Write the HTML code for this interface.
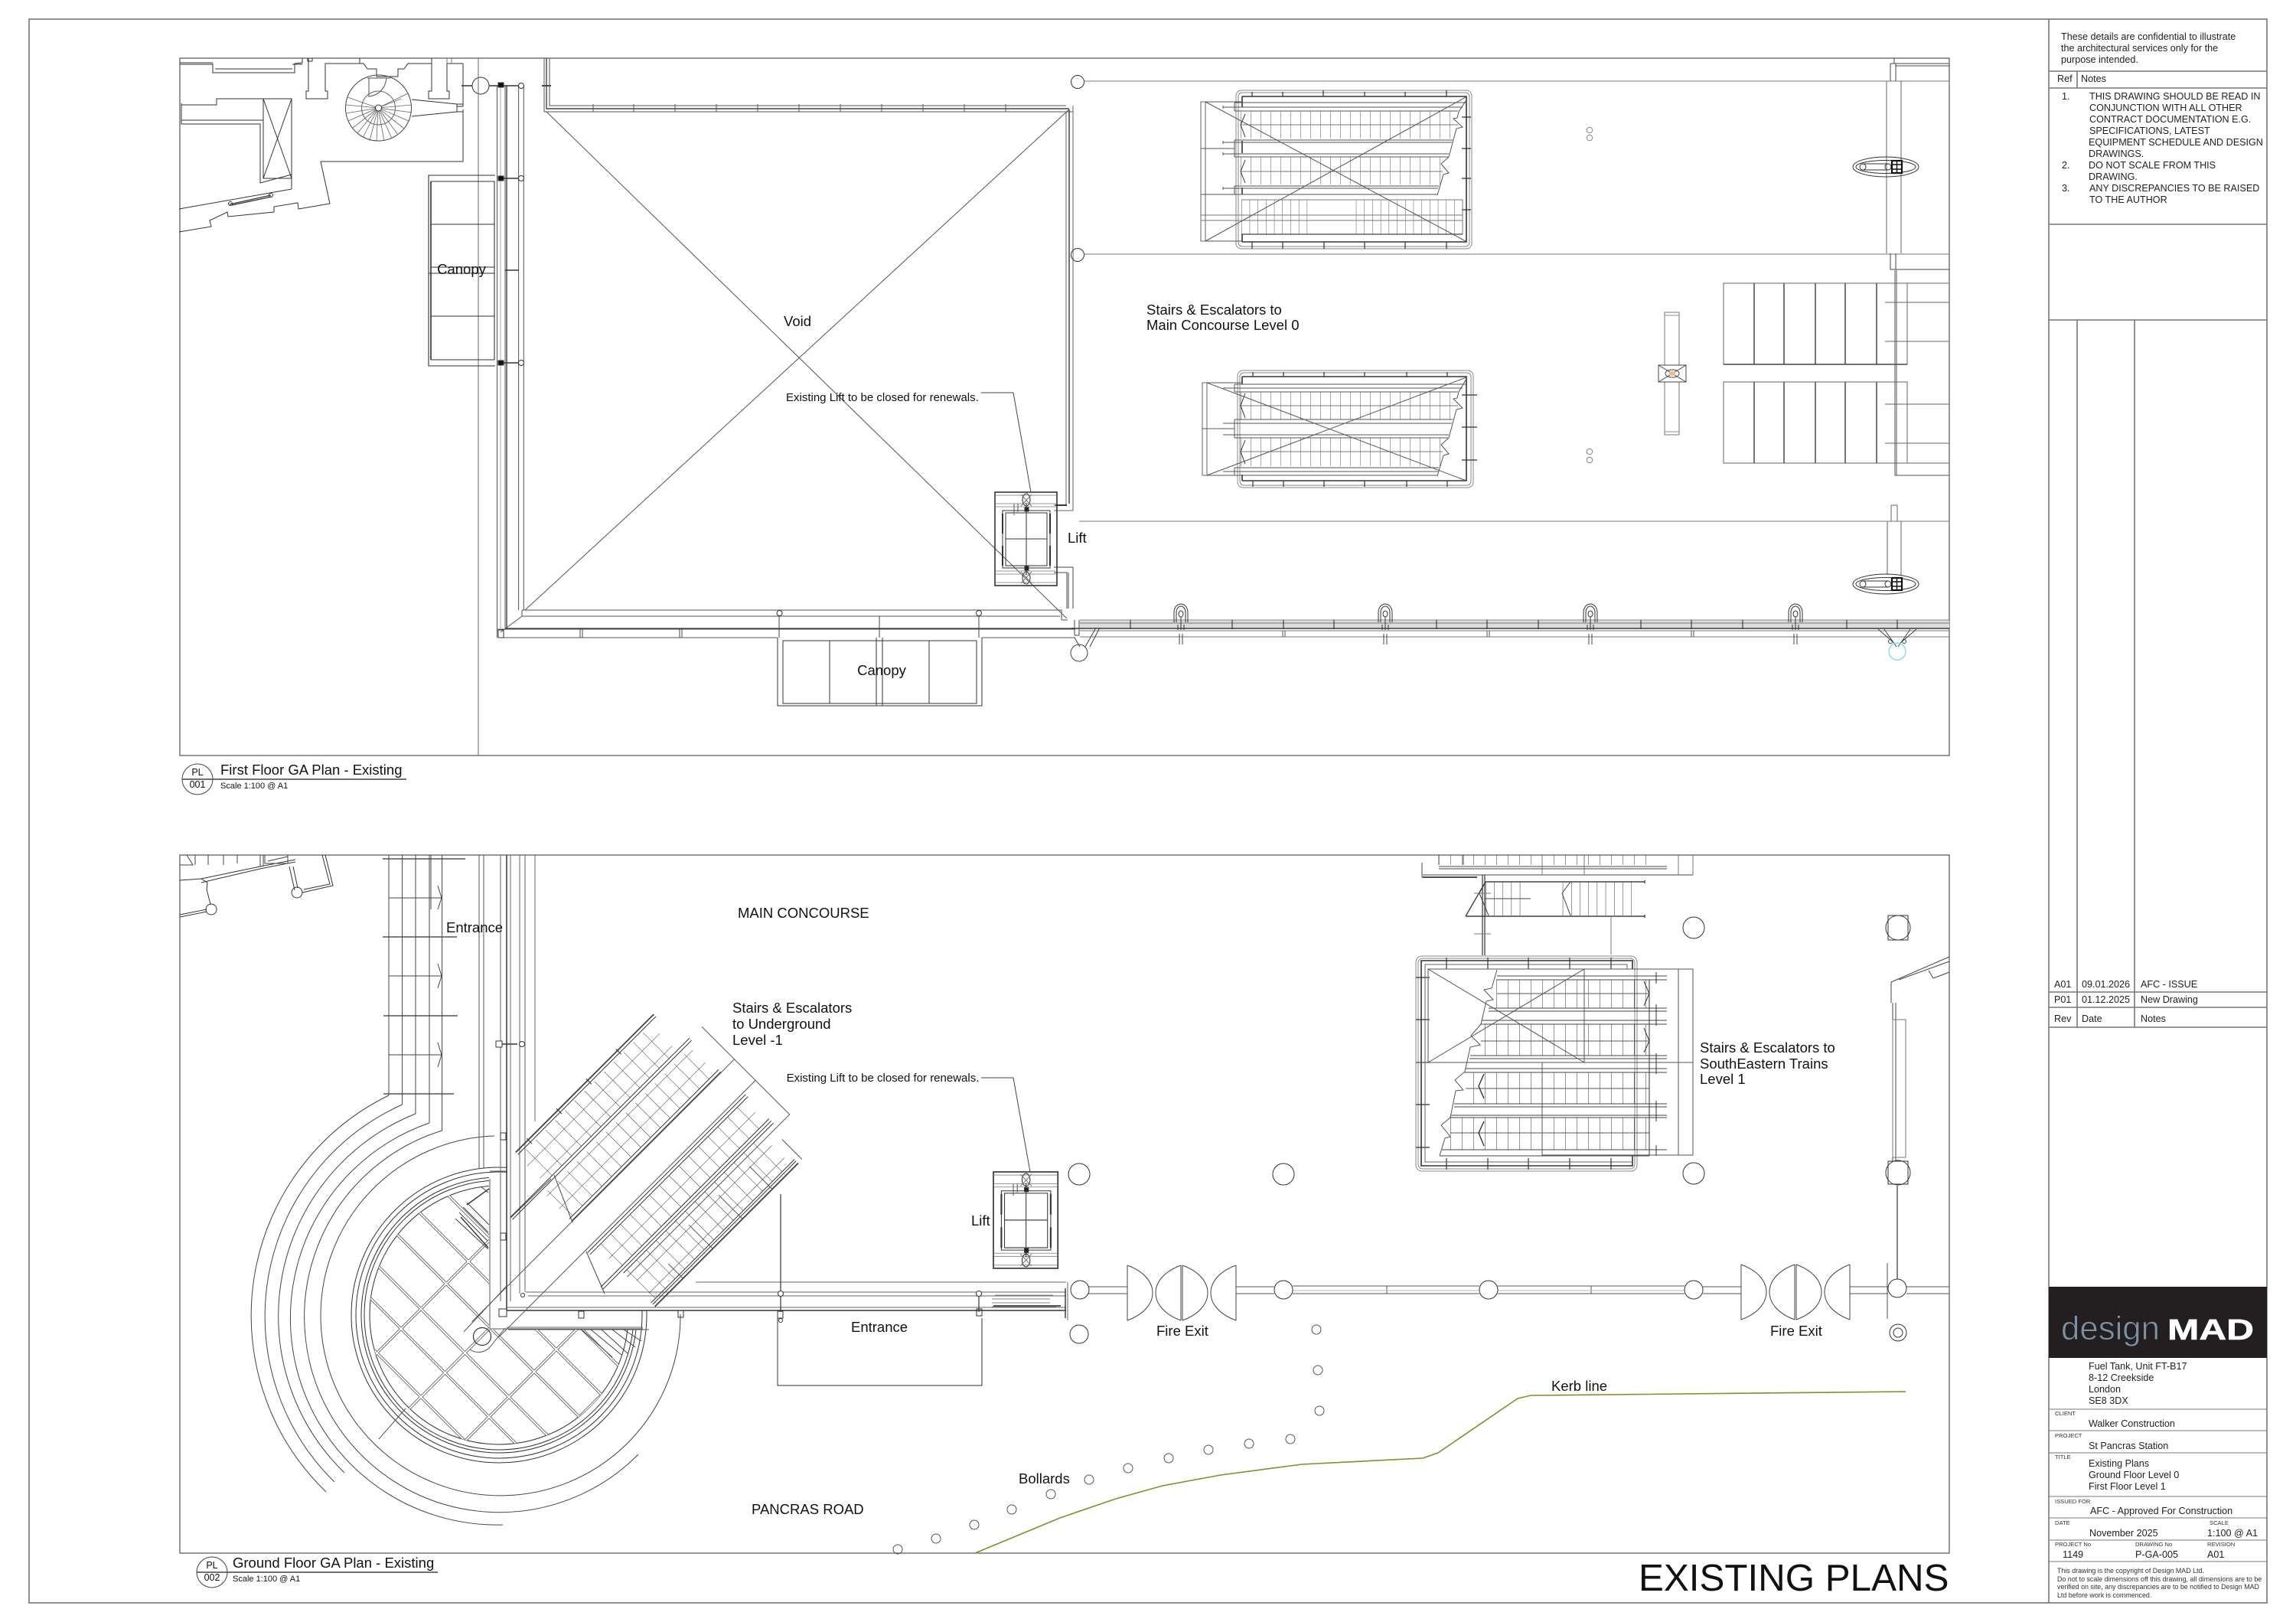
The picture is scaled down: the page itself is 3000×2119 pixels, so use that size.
<!DOCTYPE html>
<html lang="en">
<head>
<meta charset="utf-8">
<title>Existing Plans</title>
<style>
html,body{margin:0;padding:0;background:#fff}
svg{display:block}
text{font-family:"Liberation Sans",sans-serif;fill:#111;stroke:none}
.l{font-size:18.5px}
.n{font-size:12.6px;fill:#222}
.k{font-size:7.6px;fill:#333}
.v{font-size:12.6px;fill:#222}
</style>
</head>
<body>
<svg xmlns="http://www.w3.org/2000/svg" width="3000" height="2119" viewBox="0 0 3000 2119">
<defs>
<pattern id="t13" width="13" height="18" patternUnits="userSpaceOnUse" x="1621"><path d="M0 0V18" stroke="#555" stroke-width="1" fill="none"/></pattern>
<pattern id="t10" width="10.7" height="60" patternUnits="userSpaceOnUse" x="1622"><path d="M0 0V60" stroke="#555" stroke-width="1" fill="none"/></pattern>
<pattern id="t15" width="15" height="60" patternUnits="userSpaceOnUse" x="1880"><path d="M0 0V60" stroke="#333" stroke-width="1" fill="none"/></pattern>
<pattern id="t11" width="11.2" height="60" patternUnits="userSpaceOnUse" x="1941"><path d="M0 0V60" stroke="#333" stroke-width="1" fill="none"/></pattern>
<pattern id="dg" width="18" height="23" patternUnits="userSpaceOnUse"><path d="M0 0V23M0 0H18" stroke="#333" stroke-width="1" fill="none"/></pattern>
<clipPath id="circ"><circle cx="652" cy="1718" r="169"/></clipPath>
<clipPath id="quad"><path d="M400 1450H639V1737H900V2000H400Z"/></clipPath>
<clipPath id="outerq"><path d="M400 1450H662V1712H900V2000H400Z"/></clipPath>
<g id="lift" fill="none" stroke="#333" stroke-width="1">
 <rect x="0" y="0" width="81" height="122" stroke-width="1.6"/>
 <path d="M1 4H80M1 15H80M1 19H80M1 103H80M1 107H80M1 118H80" stroke="#999"/>
 <path d="M10 24H72V99H10ZM14 27H68V96H14Z"/>
 <path d="M10 28V54M10 70V96M72 28V54M72 70V96" stroke-width="2" stroke="#333"/>
 <path d="M14 61H68M41 14V108"/>
 <ellipse cx="41" cy="10" rx="5" ry="8"/><ellipse cx="41" cy="112" rx="5" ry="8"/>
 <path d="M34 3L48 18M48 3L34 18M34 104L48 119M48 104L34 119" stroke="#777"/>
 <path d="M25 15V30M30 15V26" stroke="#555"/>
 <rect x="39" y="20" width="5" height="5" fill="#222"/><rect x="39" y="97" width="5" height="5" fill="#222"/>
</g>
<g id="bay" fill="none" stroke="#333" stroke-width="1">
 <path d="M-9 13V0A9 11 0 0 1 9 0V13M-6 13V0A6 8 0 0 1 6 0V13"/>
 <ellipse cx="0" cy="2" rx="3" ry="4"/>
 <path d="M0 6V23M-4 16V23M4 16V23"/>
 <path d="M-2 28V42M2 28V42" stroke="#444"/>
</g>
<g id="oval" fill="none" stroke="#333" stroke-width="1">
 <ellipse cx="0" cy="0" rx="43" ry="13"/><ellipse cx="0" cy="0" rx="39" ry="8.5"/>
 <circle cx="-30" cy="0" r="4"/><circle cx="3" cy="0" r="4"/>
 <path d="M-30 -4H3M-30 4H3"/>
 <rect x="8" y="-8" width="13" height="16" stroke-width="2.2" stroke="#111" fill="#fff"/>
 <path d="M14.5 -8V8M8 -3H21M8 3H21" stroke-width="1.4" stroke="#111"/>
</g>
<g id="door" fill="none" stroke="#444" stroke-width="1">
 <path d="M0 0V72M0 0C44 16 44 56 0 72M70 0V72M70 0C26 16 26 56 70 72"/>
</g>
</defs>

<rect width="3000" height="2119" fill="#fff"/>

<!-- outer frame and title column -->
<g fill="none" stroke="#777" stroke-width="1.6">
 <rect x="38" y="25" width="2924" height="2069"/>
 <path d="M2677 25V2094"/>
 <path d="M2677 93H2962M2677 115H2962M2677 293H2962M2677 418H2962M2677 1296H2962M2677 1316H2962M2677 1342H2962"/>
 <path d="M2714 93V115M2714 418V1342M2789 418V1342"/>
 <path d="M2677 1841H2962M2677 1869H2962M2677 1898H2962M2677 1955H2962M2677 1983H2962M2677 2012H2962M2677 2040H2962" stroke-width="1.1"/>
</g>
<rect x="2677" y="1681" width="285" height="93" fill="#231f20"/>
<text x="2693" y="1750" font-size="44" style="fill:#7c92a0;stroke:#231f20;stroke-width:.8" textLength="129" lengthAdjust="spacingAndGlyphs">design</text>
<text x="2832" y="1750" font-size="38" font-weight="700" style="fill:#fff;stroke:#fff;stroke-width:.6" textLength="113" lengthAdjust="spacingAndGlyphs">MAD</text>

<!-- title column text -->
<text class="n" x="2693" y="52">These details are confidential to illustrate</text>
<text class="n" x="2693" y="67">the architectural services only for the</text>
<text class="n" x="2693" y="82">purpose intended.</text>
<text class="n" x="2688" y="107">Ref</text><text class="n" x="2719" y="107">Notes</text>
<text class="n" x="2694" y="130">1.</text><text class="n" x="2730" y="130">THIS DRAWING SHOULD BE READ IN</text>
<text class="n" x="2730" y="145">CONJUNCTION WITH ALL OTHER</text>
<text class="n" x="2730" y="160">CONTRACT DOCUMENTATION E.G.</text>
<text class="n" x="2730" y="175">SPECIFICATIONS, LATEST</text>
<text class="n" x="2729" y="190">EQUIPMENT SCHEDULE AND DESIGN</text>
<text class="n" x="2729" y="205">DRAWINGS.</text>
<text class="n" x="2694" y="220">2.</text><text class="n" x="2729" y="220">DO NOT SCALE FROM THIS</text>
<text class="n" x="2729" y="235">DRAWING.</text>
<text class="n" x="2694" y="250">3.</text><text class="n" x="2730" y="250">ANY DISCREPANCIES TO BE RAISED</text>
<text class="n" x="2730" y="265">TO THE AUTHOR</text>

<text class="v" x="2684" y="1290">A01</text><text class="v" x="2720" y="1290">09.01.2026</text><text class="v" x="2797" y="1290">AFC - ISSUE</text>
<text class="v" x="2684" y="1310">P01</text><text class="v" x="2720" y="1310">01.12.2025</text><text class="v" x="2797" y="1310">New Drawing</text>
<text class="v" x="2684" y="1335">Rev</text><text class="v" x="2720" y="1335">Date</text><text class="v" x="2797" y="1335">Notes</text>

<text class="v" x="2729" y="1789">Fuel Tank, Unit FT-B17</text>
<text class="v" x="2729" y="1804">8-12 Creekside</text>
<text class="v" x="2729" y="1819">London</text>
<text class="v" x="2729" y="1834">SE8 3DX</text>
<text class="k" x="2685" y="1849">CLIENT</text>
<text class="v" x="2729" y="1864">Walker Construction</text>
<text class="k" x="2685" y="1878">PROJECT</text>
<text class="v" x="2729" y="1893">St Pancras Station</text>
<text class="k" x="2685" y="1906">TITLE</text>
<text class="v" x="2729" y="1916">Existing Plans</text>
<text class="v" x="2729" y="1931">Ground Floor Level 0</text>
<text class="v" x="2729" y="1946">First Floor Level 1</text>
<text class="k" x="2685" y="1964">ISSUED FOR</text>
<text class="v" x="2731" y="1978">AFC - Approved For Construction</text>
<text class="k" x="2685" y="1992">DATE</text><text class="k" x="2887" y="1992">SCALE</text>
<text class="v" x="2730" y="2007">November 2025</text><text class="v" x="2884" y="2007">1:100 @ A1</text>
<text class="k" x="2685" y="2020">PROJECT No</text><text class="k" x="2790" y="2020">DRAWING No</text><text class="k" x="2884" y="2020">REVISION</text>
<text class="v" x="2695" y="2035">1149</text><text class="v" x="2790" y="2035">P-GA-005</text><text class="v" x="2884" y="2035">A01</text>
<g font-size="8.9">
<text x="2688" y="2055" style="fill:#333">This drawing is the copyright of Design MAD Ltd.</text>
<text x="2688" y="2066" style="fill:#333">Do not to scale dimensions off this drawing, all dimensions are to be</text>
<text x="2688" y="2076" style="fill:#333">verified on site, any discrepancies are to be notified to Design MAD</text>
<text x="2688" y="2087" style="fill:#333">Ltd before work is commenced.</text>
</g>

<!-- drawing frames -->
<g fill="none" stroke="#555" stroke-width="1.2">
 <rect x="235" y="76" width="2312" height="911"/>
 <rect x="235" y="1117" width="2312" height="912"/>
</g>

<!-- labels of plans -->
<g fill="none" stroke="#444" stroke-width="1">
 <circle cx="258" cy="1018" r="20"/><path d="M238 1018H531" stroke-width="1.4"/>
 <circle cx="277" cy="2054" r="20"/><path d="M257 2054H572" stroke-width="1.4"/>
</g>
<text x="258" y="1013" font-size="12.5" text-anchor="middle">PL</text>
<text x="258" y="1029" font-size="12.5" text-anchor="middle">001</text>
<text x="288" y="1012" font-size="18.5">First Floor GA Plan - Existing</text>
<text x="288" y="1030" font-size="11">Scale 1:100 @ A1</text>
<text x="277" y="2049" font-size="12.5" text-anchor="middle">PL</text>
<text x="277" y="2065" font-size="12.5" text-anchor="middle">002</text>
<text x="304" y="2048" font-size="18.5">Ground Floor GA Plan - Existing</text>
<text x="304" y="2066" font-size="11">Scale 1:100 @ A1</text>

<!-- ============= FIRST FLOOR PLAN ============= -->
<g fill="none" stroke="#333" stroke-width="1">
 <!-- existing building top-left -->
 <path d="M235 82H278M235 84H278M278 83V95H385V83M281 90H382M382 84H395M385 83L395 82V76M402 76V80H408V76"/>
 <path d="M403 76V119H400V129H428V119H425V83H470V76M470 83H475L480 90H492V100H520V90H528L533 83H564V76M564 83V119H560V129H587V119H584V83H605V139H597M605 143V211H419L431 266L390 273L389 265L358 270L358 277L298 283L297 277L274 288L276 296L234 303"/>
 <path d="M584 76V83M590 76V83" stroke="#777"/>
 <circle cx="494.5" cy="141" r="43" stroke="#444"/><circle cx="494.5" cy="141" r="22" stroke="#666"/>
 <path d="M494 141L454 127M494 141L452 137M494 141L452 148M494 141L455 158M494 141L461 167M494 141L467 174M494 141L474 180M494 141L483 184M494 141L492 184M494 141L502 184M494 141L512 181M494 141L520 176M494 141L528 168M494 141L534 158M494 141L538 147M494 141L538 137M494 141L533 122M494 141L524 129" stroke="#666" stroke-width=".8"/>
 <circle cx="494.5" cy="141" r="4" fill="#fff"/>
 <path d="M482 102V126C498 124 504 112 505 102M480 102H510" stroke="#555"/>
 <path d="M538 130L597 136H605M538 152L597 146H605M597 136V146"/>
 <path d="M237 135V162H340V239L381 228M237 157H344M237 137H283V129H381V233L344 233V129M344 129L381 233M381 129L344 233M381 247V228"/>
 <path d="M381 247L234 273"/>
 <circle cx="301" cy="266" r="2.5"/><circle cx="354" cy="255" r="2.5"/>
 <path d="M300 267L354 255M303 268L355 257" stroke-width="1.2"/>
 <!-- column at top of west wall -->
 <circle cx="628" cy="112" r="11"/><path d="M603 112H617M639 112H652" stroke-width="1.4"/>
 <path d="M625 76V987" stroke="#666"/>
 <path d="M708 112H720" stroke-width="1.8"/>
 <!-- west wall -->
 <path d="M649.5 112V833M660 112V821M677.6 112V797M684.3 112V797" stroke="#555"/>
 <path d="M662 112V821" stroke-width="1.4" stroke="#444"/>
 <path d="M654 112V821" stroke="#aaa"/>
 <rect x="651" y="108" width="7" height="6" fill="#111"/><rect x="651" y="230" width="7" height="6" fill="#111"/><rect x="651" y="471" width="7" height="6" fill="#111"/>
 <path d="M658 112H677M658 233H677M660 353H678M658 474H677" stroke-width="1.4"/>
 <circle cx="681" cy="112" r="3.5" fill="#fff"/><circle cx="681" cy="233" r="3.5" fill="#fff"/><circle cx="681" cy="474" r="3.5" fill="#fff"/>
 <!-- west canopy -->
 <path d="M647 229H560V478H647M563 237V470M563 237H646V470H563M563 293H646M563 349H646M560 357H646M560 349V357M563 413H646" stroke-width="1.1"/>
 <path d="M563 237V470" stroke-width="1.6"/>
 <!-- void -->
 <path d="M711 76V146H1402M718 76V138H1393" stroke="#555"/>
 <path d="M714 76V142H1397" stroke-width="1.4" stroke="#444"/>
 <path d="M775 136V146M828 136V146M882 136V146M936 136V146M990 136V146M1044 136V146M1098 136V146M1152 136V146M1206 136V146M1260 136V146M1314 136V146" stroke="#555"/>
 <path d="M1402 138V655M1393 146V660H1377M1402 655V667H1377" stroke="#666"/>
 <path d="M1397 143V658" stroke-width="1.5" stroke="#444"/>
 <path d="M1394 660H1379" stroke-width="2" stroke="#333"/>
 <path d="M714 146L1394 808M1397 143L686 797" stroke="#555"/>
 <path d="M1377 741H1402V795M1377 748H1394V795M1396 748V795" stroke="#444"/>
 <!-- south edge -->
 <path d="M682 797H1387V810H1395M682 805H1385M651 833V822H1405M651 833H1016M1283 833H1405M682 797V805L654 826" stroke="#555"/>
 <path d="M660 821H1405" stroke-width="1.3" stroke="#333"/>
 <rect x="651" y="823" width="7" height="10"/>
 <path d="M758 822V833M761 822V833M888 822V833M891 822V833M1018 805V833M1149 805V833M1279 805V833" stroke="#444"/>
 <circle cx="1018.6" cy="801" r="3.5" fill="#fff"/><circle cx="1279" cy="801" r="3.5" fill="#fff"/>
 <!-- south canopy -->
 <path d="M1016 833V922H1283V833M1023 837H1276V919H1023ZM1084 837V919M1145 833V922M1153 833V922M1214 837V919"/>
 <!-- NE circles and lines -->
 <circle cx="1408" cy="107" r="8.5"/><circle cx="1408" cy="333" r="8.5"/>
 <path d="M1417 106H2547M1417 332H2547M1410 681H2547" stroke="#777"/>
</g>

<!-- lift top -->
<use href="#lift" x="1300" y="643"/>
<path d="M1282 513H1324L1347 643" fill="none" stroke="#444"/>

<!-- escalator block 1 -->
<g fill="none" stroke="#333" stroke-width="1">
 <rect x="1615" y="118" width="308" height="207" rx="7" stroke="#888"/>
 <rect x="1618" y="121" width="302" height="201" rx="5" stroke="#888"/>
 <path d="M1623 126H1916V316H1623" stroke-width="1.6" stroke="#333"/>
 <path d="M1623 126V140M1623 306V316M1623 184V200M1623 245V254" stroke-width="1.6"/>
 <path d="M1636 120V126M1676 120V126M1729 118V126M1783 120V126M1836 120V126M1890 118V126M1636 316V325M1676 316V325M1730 316V325M1783 316V325M1836 316V325M1890 316V325M1910 153H1922M1910 194H1922M1910 233H1922M1910 274H1922" stroke-width="1.2"/>
 <rect x="1621" y="145" width="284" height="36" fill="url(#t13)" stroke="none"/>
 <rect x="1621" y="205" width="264" height="36" fill="url(#t13)" stroke="none"/>
 <path d="M1613 134H1915M1598 140H1911M1613 145H1905M1613 183H1898M1598 186H1897M1598 201H1893M1613 205H1892M1613 243H1880M1598 246H1879M1613 254H1878M1613 134V145M1613 183V205M1613 243V254M1598 138V142M1598 184V188M1598 199V203M1598 244V248" stroke="#555"/>
 <path d="M1915 132L1906 146L1904 154L1899 155L1911 166L1903 168L1893 205L1883 214L1893 226L1886 228L1878 255" stroke="#555"/>
 <path d="M1621 163H1905M1621 224H1885" stroke="#777"/>
 <path d="M1627 149L1621 163L1627 179M1627 209L1621 224L1627 239"/>
 <rect x="1622" y="261" width="96" height="45" fill="url(#t10)" stroke="none"/>
 <rect x="1762" y="261" width="149" height="45" fill="url(#t10)" stroke="none"/>
 <path d="M1622 261H1911V306H1622M1569 281H1911M1569 288H1911" stroke="#777"/>
 <path d="M1622 306H1911" stroke="#444" stroke-width="1.2"/>
 <rect x="1569" y="133" width="6" height="182" stroke="#666"/>
 <path d="M1569 194H1613M1569 254H1613M1575 133H1623M1575 315H1623" stroke="#555"/>
 <path d="M1575 133L1915 315M1575 315L1915 127" stroke="#555"/>
</g>

<!-- escalator block 2 -->
<g fill="none" stroke="#333" stroke-width="1">
 <rect x="1617" y="484" width="308" height="153" rx="7" stroke="#888"/>
 <rect x="1620" y="487" width="302" height="147" rx="5" stroke="#888"/>
 <path d="M1623 492H1916V628H1623" stroke-width="1.6" stroke="#333"/>
 <path d="M1623 492V502M1623 620V628" stroke-width="1.6"/>
 <path d="M1637 486V492M1677 486V492M1730 486V492M1783 486V492M1838 486V492M1891 486V492M1637 628V636M1677 628V636M1730 628V636M1783 628V636M1838 628V636M1891 628V636M1910 516H1930M1910 558H1930M1910 601H1930" stroke-width="1.2"/>
 <rect x="1621" y="512" width="284" height="36" fill="url(#t13)" stroke="none"/>
 <rect x="1621" y="572" width="264" height="37" fill="url(#t13)" stroke="none"/>
 <path d="M1613 502H1915M1598 507H1911M1613 512H1905M1613 548H1898M1598 553H1897M1598 568H1893M1613 572H1892M1613 611H1880M1598 616H1879M1613 621H1878M1613 502V512M1613 548V572M1613 611V621" stroke="#555"/>
 <path d="M1916 495L1906 512L1904 520L1899 521L1911 533L1903 535L1893 572L1883 581L1893 593L1886 595L1878 622" stroke="#555"/>
 <path d="M1621 530H1905M1621 590H1885" stroke="#777"/>
 <path d="M1627 514L1621 530L1627 546M1627 575L1621 590L1627 606"/>
 <rect x="1571" y="500" width="6" height="121" stroke="#666"/>
 <path d="M1571 560H1613M1577 500H1623M1577 621H1623" stroke="#555"/>
 <path d="M1577 500L1916 628M1577 621L1916 493" stroke="#555"/>
</g>

<!-- NE columns + canopies -->
<g fill="none" stroke="#444" stroke-width="1">
 <path d="M2465 106V331M2484 106V331" stroke="#666"/>
 <path d="M2470 83V106M2477 83V106M2470 83H2477M2475 76V83M2477 83H2547M2477 86H2547M2470 331V352H2477V331M2477 352H2547"/>
 <path d="M2466 681V751M2484 681V751M2471 660V681M2479 660V681M2471 660H2479" stroke="#666"/>
 <rect x="2252" y="370" width="240" height="106" stroke="#666"/>
 <rect x="2252" y="499" width="240" height="106" stroke="#666"/>
 <path d="M2292 370V476M2331 370V476M2372 370V476M2411 370V476M2452 370V476M2292 499V605M2331 499V605M2372 499V605M2411 499V605M2452 499V605" stroke-width="1.6" stroke="#555"/>
 <path d="M2252 476H2492" stroke-width="1.6"/>
 <path d="M2492 370H2547M2463 395H2547M2463 446H2547M2463 528H2547M2463 579H2547M2492 605H2547" stroke="#666"/>
 <path d="M2476 353V621H2547M2478 353V621" stroke="#555"/>
 <!-- centre kiosk -->
 <rect x="2175" y="408" width="19" height="160" stroke="#777"/>
 <path d="M2175 412H2194M2175 564H2194" stroke="#888"/>
 <rect x="2167" y="477" width="36" height="22" fill="#fff"/>
 <path d="M2167 477L2203 499M2203 477L2167 499"/>
 <ellipse cx="2185" cy="488" rx="9" ry="5"/>
 <ellipse cx="2185" cy="488" rx="4" ry="3" fill="#eebb88" stroke="none"/>
 <circle cx="2077" cy="170" r="3.7" stroke="#888"/><circle cx="2077" cy="180" r="3.7" stroke="#888"/>
 <circle cx="2077" cy="590" r="3.7" stroke="#888"/><circle cx="2077" cy="601" r="3.7" stroke="#888"/>
</g>
<use href="#oval" x="2464" y="218"/>
<use href="#oval" x="2464" y="763"/>

<!-- facade -->
<rect x="1411" y="811" width="1136" height="9" fill="#dcdcdc"/>
<g fill="none" stroke="#444" stroke-width="1">
 <path d="M1411 810H2547M1411 814H2547M1411 824H2547M1411 832H2547" stroke="#777"/>
 <path d="M1400 821H2547" stroke-width="1.4" stroke="#333"/>
 <path d="M1477 810V822M1610 810V822M1677 810V822M1743 810V822M1877 810V822M1943 810V822M2010 810V822M2144 810V822M2210 810V822M2277 810V822M2413 810V822M2479 810V822" stroke="#222"/>
 <path d="M1676 824V832M1679 824V832M1943 824V832M1946 824V832M2210 824V832M2213 824V832" stroke="#555"/>
 <path d="M1404 810V830M1410 810V830H1404"/>
 <path d="M1404 833L1411 845M1418 845L1432 820M1424 845L1437 820"/>
 <circle cx="1410" cy="853" r="11"/>
 <path d="M2454 822L2475 840M2462 822L2478 845M2504 822L2483 840M2496 822L2480 845"/>
 <circle cx="2470" cy="838" r="2.5"/><circle cx="2488" cy="838" r="2.5"/>
</g>
<ellipse cx="2479" cy="851" rx="11" ry="11" fill="none" stroke="#7fdfe5" stroke-width="1.4"/>
<use href="#bay" x="1543" y="800"/><use href="#bay" x="1810" y="800"/><use href="#bay" x="2078" y="800"/><use href="#bay" x="2346" y="800"/>

<!-- ============= GROUND FLOOR PLAN ============= -->
<g fill="none" stroke="#333" stroke-width="1">
 <!-- NW building -->
 <path d="M235 1150L263 1148L340 1132L386 1123M263 1153L340 1135L386 1126M263 1148L271 1153L270 1162L275 1181M235 1195L270 1188M235 1198L270 1191"/>
 <circle cx="276" cy="1188" r="7"/>
 <path d="M378 1132L385 1163M383 1132L389 1160M395 1166L435 1157L425 1117M397 1162L431 1155L421 1117"/>
 <circle cx="388" cy="1166" r="7"/>
 <path d="M340 1117V1132M344 1117V1131M244 1117L252 1130H235M255 1117V1130M272 1117V1130M292 1117V1130M310 1117V1128" stroke="#444"/>
 <path d="M346 1117V1128H376V1117M350 1125L376 1119" stroke="#444"/>
 <!-- entrance verticals + arcs -->
 <path d="M500 1122H608M500 1224H597M501 1327H598M501 1429H593" stroke-width="1.2"/>
 <path d="M508 1117V1431M525.6 1117V1443M543 1117V1455M561 1117V1467M577.6 1117V1477" stroke="#444"/>
 <path d="M508 1173H577M572 1157L577 1173L572 1188M508 1275H577M572 1259L577 1275L572 1291M508 1378H577M572 1362L577 1378L572 1394M563 1117V1188" stroke="#444"/>
 <path d="M508 1431A320 320 0 0 0 426 1949M525.6 1443A303 303 0 0 0 437 1936M543 1455A285 285 0 0 0 450 1924M561 1467A270 270 0 0 0 657 1992M577.6 1477A255 255 0 1 0 834 1900M646 1484A235 235 0 1 0 889 1717" stroke="#444"/>
 <path d="M626 1117V1526M632 1117V1526" stroke="#555"/>
 <!-- rotunda rings -->
 <g clip-path="url(#outerq)"><circle cx="652" cy="1718" r="193"/><circle cx="652" cy="1718" r="187"/></g>
 <g clip-path="url(#quad)"><circle cx="652" cy="1718" r="180"/><circle cx="652" cy="1718" r="176"/><circle cx="652" cy="1718" r="169"/></g>
 <path d="M640 1530H662M664 1737H848M640 1540V1736H840" stroke="#555"/>
</g>
<g clip-path="url(#circ)"><g clip-path="url(#quad)">
 <path d="M400 1860L900 1360M400 1975L900 1475M400 2090L900 1590M500 2108L1000 1608M400 1376L900 1876M400 1436L900 1936M400 1494L900 1994M400 1560L900 2060M400 1612L800 2012M400 1675L800 2075M400 1736L700 2036" fill="none" stroke="#555" stroke-width="3.6"/>
 <path d="M400 1860L900 1360M400 1975L900 1475M400 2090L900 1590M500 2108L1000 1608M400 1376L900 1876M400 1436L900 1936M400 1494L900 1994M400 1560L900 2060M400 1612L800 2012M400 1675L800 2075M400 1736L700 2036" fill="none" stroke="#fff" stroke-width="2"/>
</g></g>
<g fill="none" stroke="#333" stroke-width="1">
 <path d="M495 1880L530 1840" stroke="#555"/>
 <!-- small stairs at rotunda -->
 <path d="M605 1577L638 1610M610 1571L639 1600M600 1584L637 1621M595 1592L638 1632M628 1550L638 1558" stroke="#444"/>
 <path d="M610 1574L639 1553M602 1590L638 1630" stroke-width="1.4"/>
 <path d="M760 1737L800 1773M772 1737L812 1770M786 1737L820 1768M800 1737L830 1760M815 1737L838 1752" stroke="#444"/>
 <!-- main wall L -->
 <path d="M654 1117V1700M667 1117V1700M679 1117V1690M686 1117V1688M699 1117V1465" stroke="#666"/>
 <path d="M662 1117V1712" stroke-width="1.5" stroke="#333"/>
 <path d="M662 1712H1393" stroke-width="1.5" stroke="#333"/>
 <path d="M687 1688H1393M690 1693H1393M662 1708H1393M662 1734H840M909 1675H1393M1395 1675V1725" stroke="#666"/>
 <rect x="652" y="1710" width="10" height="10" fill="#fff"/>
 <rect x="648" y="1360" width="8" height="8" fill="#fff"/>
 <path d="M656 1364H676" stroke-width="1.6"/>
 <circle cx="682" cy="1364" r="3.5" fill="#fff"/>
 <circle cx="683" cy="1692" r="2.5" fill="#fff"/>
 <rect x="654" y="1480" width="7" height="9"/><rect x="654" y="1611" width="7" height="9"/>
 <rect x="756" y="1713" width="7" height="9"/><rect x="886" y="1712" width="7" height="9"/>
 <rect x="1016" y="1713" width="7" height="9"/><circle cx="1020" cy="1725" r="2.5"/>
 <circle cx="1020" cy="1690" r="3.5" fill="#fff"/><path d="M1020 1560V1686M1020 1694V1714" stroke-width="1.2"/>
 <circle cx="1279" cy="1690" r="3.5" fill="#fff"/><path d="M1279 1694V1714" stroke-width="1.2"/>
 <rect x="1276" y="1710" width="7" height="9"/>
 <path d="M1016 1722V1810H1283V1722"/>
 <path d="M1300 1692H1376M1296 1697H1372M1296 1702H1372M1296 1707H1380" stroke="#888"/>
 <path d="M1298 1706H1386" stroke-width="2" stroke="#555"/>
 <path d="M1392 1683V1722" stroke-width="1.4"/>
 <circle cx="630" cy="1746" r="11.5" stroke-width="1.2"/>
 <path d="M614 1763A20 20 0 0 0 640 1760L660 1735M606 1740L662 1680" stroke="#555"/>
 <!-- diagonal escalators -->
 <g transform="rotate(-45)">
  <rect x="-590" y="1548" width="245" height="48" fill="url(#dg)" stroke="none"/>
  <rect x="-600" y="1606" width="270" height="46" fill="url(#dg)" stroke="none"/>
  <rect x="-600" y="1704" width="270" height="40" fill="url(#dg)" stroke="none"/>
  <rect x="-595" y="1752" width="250" height="53" fill="url(#dg)" stroke="none"/>
  <path d="M-588 1545H-333M-653 1600H-322M-600 1656H-324M-614 1700H-322M-634 1748H-323M-602 1808H-337"/>
  <path d="M-653 1596H-322M-600 1652H-324M-614 1704H-322M-634 1744H-323M-600 1752H-323M-602 1805H-337"/>
  <path d="M-588 1541H-333" stroke-width="1.8" stroke="#444"/>
  <path d="M-602 1812H-337" stroke-width="1.8" stroke="#444"/>
  <path d="M-300 1597V1759H-600M-785 1657H-300M-774 1696H-300" stroke="#555"/>
  <path d="M-330 1812V1775M-385 1812V1770M-440 1812V1768M-495 1812V1768M-550 1812V1785" stroke="#555"/>
  <path d="M-400 1538V1548M-455 1538V1548M-510 1538V1548M-565 1538V1548" stroke="#333"/>
 </g>
 <path d="M724 1535L748 1597M766 1635L790 1690" stroke="#444"/>
 <path d="M667 1591L720 1540" stroke="#444"/>
</g>

<use href="#lift" transform="translate(1298,1531) scale(1.04,1.032)"/>
<path d="M1282 1408H1324L1346 1531" fill="none" stroke="#444"/>

<!-- SE escalators -->
<g fill="none" stroke="#333" stroke-width="1">
 <path d="M1859 1143H2212M1858 1127V1146H1912M1880 1132H2178M1880 1135H2178M1880 1130V1117M1912 1117V1130" stroke="#444"/>
 <path d="M1859 1146H1930" stroke-width="1.8"/>
 <rect x="1880" y="1117" width="275" height="13" fill="url(#t15)" stroke="none"/>
 <path d="M2015 1117V1143M2070 1117V1143M2193 1117V1143M2212 1117V1143" stroke="#777"/>
 <rect x="1941" y="1152" width="56" height="44" fill="url(#t11)" stroke="none"/>
 <rect x="2041" y="1152" width="99" height="44" fill="url(#t11)" stroke="none"/>
 <path d="M1941 1152H2149M1915 1197H2149M1915 1197L1941 1152M2149 1150V1154M2149 1195V1199" stroke-width="1.4" stroke="#444"/>
 <path d="M1933 1167L1945 1196M1933 1167L1941 1152M2041 1167L2052 1152M2041 1167L2052 1196M1940 1174H2000" stroke="#444"/>
 <path d="M1937 1143V1248M1940 1143V1248" stroke-width="1.2"/>
 <path d="M1926 1167H1948M1926 1220H1948M2105 1198V1247" stroke="#777"/>
 <rect x="1850" y="1249" width="289" height="281" rx="8" stroke="#888"/>
 <rect x="1853" y="1252" width="283" height="275" rx="6" stroke="#888"/>
 <path d="M2133 1266V1255H1857V1523H2133V1510" stroke-width="1.6" stroke="#333"/>
 <path d="M2126 1266V1260H1862V1518H2133" stroke="#666"/>
 <path d="M1890 1251V1266M1944 1251V1266M1997 1251V1266M2051 1251V1266M2105 1251V1266M1890 1513V1528M1944 1513V1528M1997 1513V1528M2051 1513V1528M2105 1513V1528M1850 1277H1868M1850 1332H1868M1850 1388H1868M1850 1443H1868M1850 1499H1868" stroke-width="1.2"/>
 <rect x="1955" y="1280" width="200" height="37" fill="url(#t15)" stroke="none"/>
 <rect x="1935" y="1338" width="220" height="41" fill="url(#t15)" stroke="none"/>
 <rect x="1915" y="1401" width="240" height="41" fill="url(#t15)" stroke="none"/>
 <rect x="1895" y="1460" width="260" height="42" fill="url(#t15)" stroke="none"/>
 <path d="M1956 1275H2178M1955 1280H2178M1945 1317H2178M1945 1321H2178M1936 1333H2178M1935 1338H2178M1921 1379H2178M1920 1383H2178M1915 1396H2178M1914 1401H2178M1900 1442H2178M1900 1446H2178M1896 1457H2178M1894 1460H2178M1884 1502H2178M1881 1510H2155" stroke="#444"/>
 <path d="M1956 1298H2155M1935 1360H2155M1915 1422H2155M1895 1480H2155" stroke="#555"/>
 <path d="M2164 1270V1285M2164 1312V1340M2164 1376V1403M2164 1438V1465M2164 1496V1510M2155 1280V1510"/>
 <path d="M2148 1282L2155 1298L2148 1314M2148 1343L2155 1360L2148 1375"/>
 <path d="M1939 1403L1932 1419L1939 1435M1939 1465L1932 1480L1939 1497" stroke-width="1.4"/>
 <path d="M1956 1267L1949 1291L1939 1293L1951 1306L1942 1308L1935 1338L1922 1353L1934 1365L1921 1368L1914 1400L1901 1411L1912 1424L1902 1425L1895 1460L1883 1470L1895 1485L1888 1487L1881 1510" stroke="#555"/>
 <path d="M1866 1388V1266H2212V1509H2015V1388M1850 1388H2212M2070 1266V1388M2193 1266V1509" stroke="#555"/>
 <path d="M1866 1266L2070 1388M1866 1388L2070 1266" stroke="#555"/>
 <path d="M2471 1283L2547 1250M2471 1283V1310M2473 1310V1517M2477 1310V1517M2481 1280L2547 1256M2526 1278L2547 1270M2520 1268L2526 1278" stroke="#444"/>
 <rect x="2473" y="1332" width="17" height="180" stroke="#777"/>
 <ellipse cx="2213" cy="1212" rx="14" ry="14"/><ellipse cx="2213" cy="1533" rx="14" ry="14"/>
 <ellipse cx="1410" cy="1534" rx="14" ry="14"/><ellipse cx="1677" cy="1534" rx="14" ry="14"/>
 <ellipse cx="1410" cy="1743" rx="12" ry="12"/>
 <circle cx="2480" cy="1212" r="16"/><rect x="2467" y="1196" width="26" height="32"/>
 <circle cx="2480" cy="1532" r="16"/><rect x="2467" y="1517" width="26" height="30"/>
 <circle cx="2480" cy="1741" r="11"/><circle cx="2480" cy="1741" r="6"/>
 <path d="M2479 1549V1672" stroke-width="1.2"/>
 <path d="M1422 1681H1473M1422 1690H1473M1615 1681H1665M1615 1690H1665M1689 1680H1933M1689 1690H1933M1957 1680H2201M1957 1690H2201M2225 1681H2275M2225 1690H2275M2417 1681H2467M2417 1690H2467M2491 1681H2547M2491 1690H2547" stroke="#555"/>
 <path d="M1812 1680V1690M2079 1680V1690M2466 1650V1723" stroke="#555"/>
 <path d="M1689 1686H1933M1957 1686H2201" stroke="#bbb"/>
 <circle cx="1411" cy="1685" r="12" fill="#fff"/><circle cx="1677" cy="1685" r="12" fill="#fff"/><circle cx="1945" cy="1685" r="12" fill="#fff"/><circle cx="2213" cy="1685" r="12" fill="#fff"/><circle cx="2479" cy="1683" r="12" fill="#fff"/>
 <g stroke="#555"><circle cx="1720" cy="1737" r="6"/><circle cx="1722" cy="1790" r="6"/><circle cx="1724" cy="1843" r="6"/><circle cx="1686" cy="1880" r="6"/><circle cx="1632" cy="1886" r="6"/><circle cx="1579" cy="1894" r="6"/><circle cx="1527" cy="1905" r="6"/><circle cx="1474" cy="1918" r="6"/><circle cx="1423" cy="1933" r="6"/><circle cx="1373" cy="1952" r="6"/><circle cx="1322" cy="1972" r="6"/><circle cx="1273" cy="1992" r="6"/><circle cx="1223" cy="2010" r="6"/><circle cx="1173" cy="2024" r="6"/></g>
</g>
<use href="#door" x="1473" y="1653"/><use href="#door" x="1545" y="1653"/>
<use href="#door" x="2275" y="1652"/><use href="#door" x="2347" y="1652"/>

<!-- kerb -->
<path d="M1274 2029L1385 1983L1458 1958L1519 1941L1595 1927L1701 1913L1859 1905L1879 1898L1983 1827L2000 1823L2490 1818" fill="none" stroke="#8a8a30" stroke-width="1.6"/>

<!-- labels -->
<text class="l" x="603" y="358" text-anchor="middle">Canopy</text>
<text class="l" x="1152" y="882" text-anchor="middle">Canopy</text>
<text class="l" x="1024" y="426">Void</text>
<text class="l" x="1498" y="411">Stairs &amp; Escalators to</text>
<text class="l" x="1498" y="431">Main Concourse Level 0</text>
<text x="1027" y="524" font-size="15">Existing Lift to be closed for renewals.</text>
<text class="l" x="1395" y="709">Lift</text>
<text class="l" x="583" y="1218">Entrance</text>
<text class="l" x="964" y="1199">MAIN CONCOURSE</text>
<text class="l" x="957" y="1323">Stairs &amp; Escalators</text>
<text class="l" x="957" y="1344">to Underground</text>
<text class="l" x="957" y="1365">Level -1</text>
<text x="1027.6" y="1413" font-size="15">Existing Lift to be closed for renewals.</text>
<text class="l" x="2221" y="1375">Stairs &amp; Escalators to</text>
<text class="l" x="2221" y="1396">SouthEastern Trains</text>
<text class="l" x="2221" y="1416">Level 1</text>
<text class="l" x="1269" y="1601">Lift</text>
<text class="l" x="1112" y="1740">Entrance</text>
<text class="l" x="1511" y="1745">Fire Exit</text>
<text class="l" x="2313" y="1745">Fire Exit</text>
<text class="l" x="2027" y="1817">Kerb line</text>
<text class="l" x="1331" y="1938">Bollards</text>
<text class="l" x="982" y="1978">PANCRAS ROAD</text>
<text x="2141" y="2078" font-size="49.3">EXISTING PLANS</text>
</svg>
</body>
</html>
